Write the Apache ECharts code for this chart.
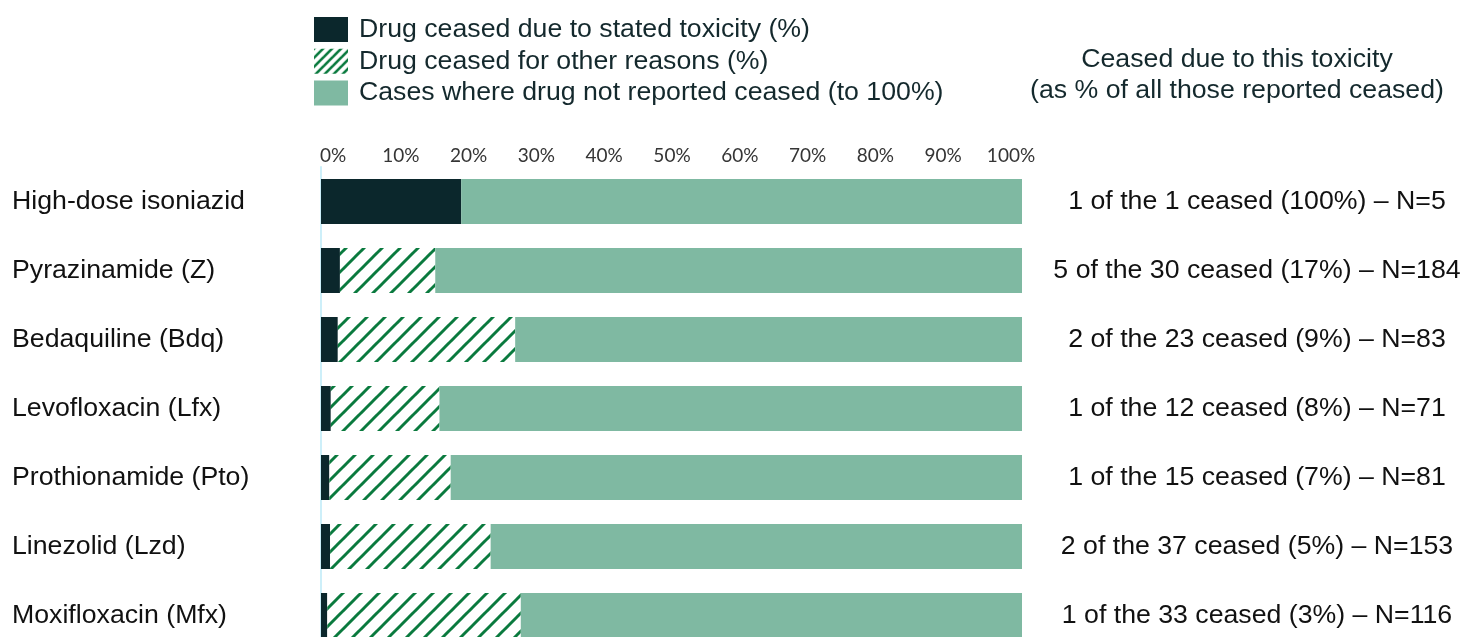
<!DOCTYPE html>
<html>
<head>
<meta charset="utf-8">
<script src="https://cdn.jsdelivr.net/npm/echarts@6/dist/echarts.min.js"></script>
<style>
  html, body { margin: 0; padding: 0; background: #ffffff; }
  #chart { width: 1465px; height: 637px; }
</style>
</head>
<body>
<div id="chart"></div>
<script>
// Drugs, top to bottom
const drugs = [
  'High-dose isoniazid',
  'Pyrazinamide (Z)',
  'Bedaquiline (Bdq)',
  'Levofloxacin (Lfx)',
  'Prothionamide (Pto)',
  'Linezolid (Lzd)',
  'Moxifloxacin (Mfx)'
];
// Share of cases (%) by outcome
const ceasedToxicity = [20.0, 2.7, 2.4, 1.4, 1.2, 1.3, 0.9];
const ceasedOther    = [0.0, 13.6, 25.3, 15.5, 17.3, 22.9, 27.6];
const notCeased      = [80.0, 83.7, 72.3, 83.1, 81.5, 75.8, 71.5];
// Summary shown at the right of each bar
const ceasedSummary = [
  '1 of the 1 ceased (100%) – N=5',
  '5 of the 30 ceased (17%) – N=184',
  '2 of the 23 ceased (9%) – N=83',
  '1 of the 12 ceased (8%) – N=71',
  '1 of the 15 ceased (7%) – N=81',
  '2 of the 37 ceased (5%) – N=153',
  '1 of the 33 ceased (3%) – N=116'
];
const seriesNames = [
  'Drug ceased due to stated toxicity (%)',
  'Drug ceased for other reasons (%)',
  'Cases where drug not reported ceased (to 100%)'
];
const percentTicks = [0, 10, 20, 30, 40, 50, 60, 70, 80, 90, 100];

const DARK = '#0b272c';
const HATCH = '#0a7a3e';
const LIGHT = '#7fb9a2';
const TEXT = '#14292d';
const FONT = '"Liberation Sans", Arial, sans-serif';
const FS = 26.7;

// Diagonal hatch tile (white ground, green stripes)
function hatch(period, width) {
  const c = document.createElement('canvas');
  c.width = period; c.height = period;
  const g = c.getContext('2d');
  g.fillStyle = '#ffffff';
  g.fillRect(0, 0, period, period);
  g.strokeStyle = HATCH;
  g.lineWidth = width;
  for (let k = -1; k <= 1; k++) {
    g.beginPath();
    g.moveTo(k * period - 1, period + 1);
    g.lineTo(k * period + period + 1, -1);
    g.stroke();
  }
  return { image: c, repeat: 'repeat' };
}
const barHatch = hatch(18, 3);
const iconHatch = hatch(9, 2.6);

const chart = echarts.init(document.getElementById('chart'), null, { renderer: 'canvas' });

const base = {
  type: 'bar',
  stack: 'total',
  barWidth: 45,
  xAxisIndex: 0,
  yAxisIndex: 0,
  silent: true,
  animation: false
};

chart.setOption({
  animation: false,
  backgroundColor: '#ffffff',
  legend: {
    orient: 'vertical',
    left: 309,
    top: 11,
    itemWidth: 34,
    itemHeight: 25,
    itemGap: 4.7,
    icon: 'rect',
    selectedMode: false,
    textStyle: {
      fontFamily: FONT,
      fontSize: FS,
      lineHeight: 25,
      color: TEXT,
      padding: [0, 0, 0, 6]
    },
    data: [
      { name: seriesNames[0], itemStyle: { color: DARK } },
      { name: seriesNames[1], itemStyle: { color: iconHatch } },
      { name: seriesNames[2], itemStyle: { color: LIGHT } }
    ]
  },
  graphic: [
    {
      type: 'text', x: 1237, y: 60,
      style: {
        text: 'Ceased due to this toxicity',
        align: 'center', verticalAlign: 'middle',
        font: FS + 'px ' + FONT, fill: TEXT
      }
    },
    {
      type: 'text', x: 1237, y: 91,
      style: {
        text: '(as % of all those reported ceased)',
        align: 'center', verticalAlign: 'middle',
        font: FS + 'px ' + FONT, fill: TEXT
      }
    }
  ],
  grid: [
    { left: 321, width: 701, top: 167, height: 483, containLabel: false, outerBoundsMode: 'none' },
    { left: 333, width: 678, top: 167, height: 483, containLabel: false, outerBoundsMode: 'none' }
  ],
  xAxis: [
    {
      gridIndex: 0, type: 'value', min: 0, max: 100,
      show: false
    },
    {
      gridIndex: 1, type: 'value', position: 'top',
      min: percentTicks[0], max: percentTicks[percentTicks.length - 1], interval: 10,
      axisLine: { show: false }, axisTick: { show: false }, splitLine: { show: false },
      axisLabel: {
        margin: 11,
        verticalAlign: 'middle',
        formatter: '{value}%',
        fontFamily: 'Lato, "Open Sans", sans-serif',
        fontSize: 19,
        color: '#353535'
      }
    }
  ],
  yAxis: [
    {
      gridIndex: 0, type: 'category', inverse: true, data: drugs,
      axisLine: { show: true, lineStyle: { color: '#cdeff9', width: 2 } },
      axisTick: { show: false },
      axisLabel: {
        align: 'left', margin: 309,
        fontFamily: FONT,
        fontSize: FS, color: '#111111'
      }
    },
    {
      gridIndex: 0, type: 'category', inverse: true, position: 'right', data: ceasedSummary,
      axisLine: { show: false }, axisTick: { show: false },
      axisLabel: {
        align: 'center', margin: 235,
        fontFamily: FONT,
        fontSize: FS, color: '#111111'
      }
    },
    { gridIndex: 1, type: 'value', show: false }
  ],
  series: [
    Object.assign({}, base, { name: seriesNames[0], data: ceasedToxicity, itemStyle: { color: DARK } }),
    Object.assign({}, base, { name: seriesNames[1], data: ceasedOther, itemStyle: { color: barHatch } }),
    Object.assign({}, base, { name: seriesNames[2], data: notCeased, itemStyle: { color: LIGHT } })
  ]
});
</script>
</body>
</html>
